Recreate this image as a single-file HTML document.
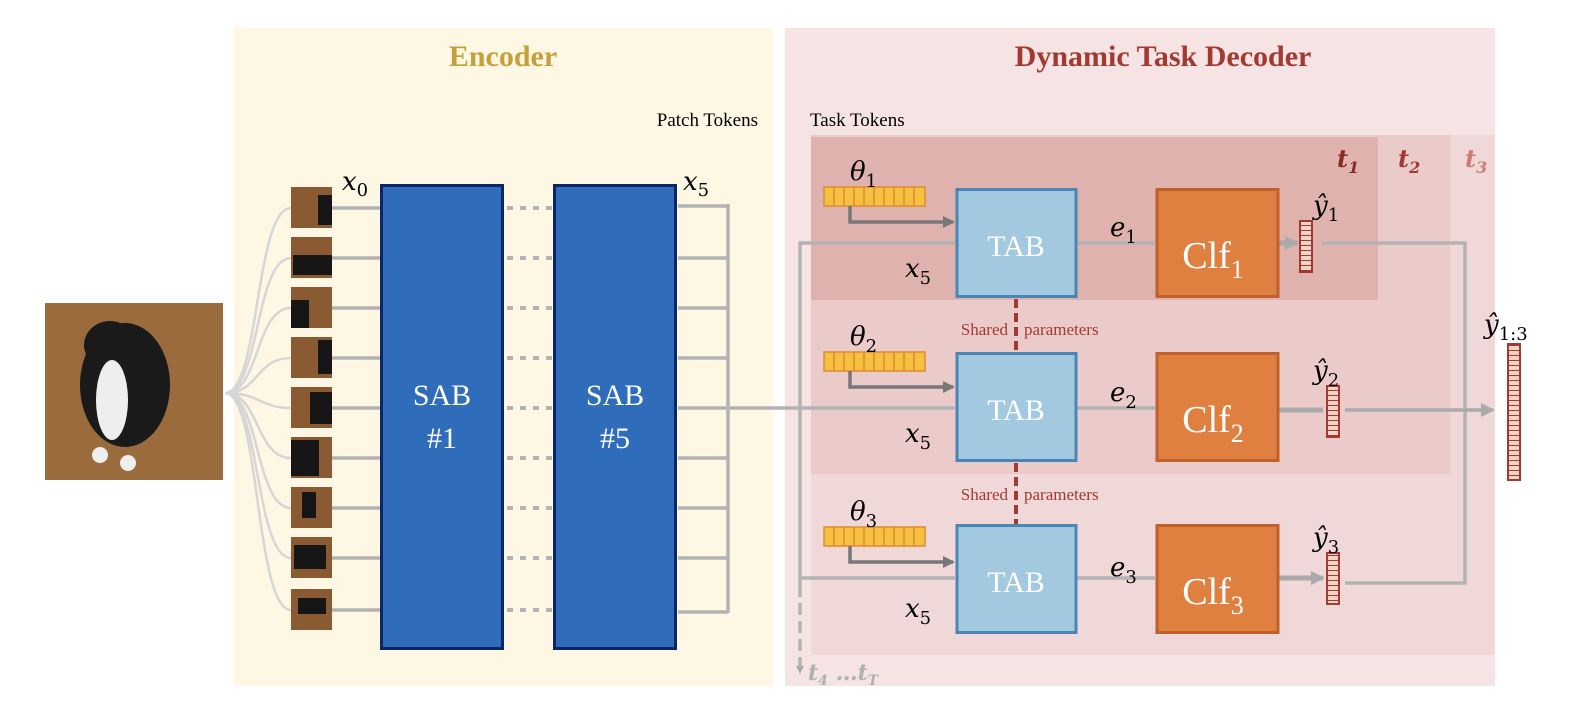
<!DOCTYPE html>
<html><head><meta charset="utf-8"><style>
html,body{margin:0;padding:0;background:#fff}
svg{display:block}
.m{font-family:"DejaVu Serif","Liberation Serif",serif;font-style:italic}
.s{font-family:"Liberation Serif",serif}
</style></head><body>
<svg width="1572" height="708" viewBox="0 0 1572 708" xmlns="http://www.w3.org/2000/svg">
<defs>
<marker id="ag" markerWidth="8" markerHeight="8" refX="6" refY="4" orient="auto" markerUnits="userSpaceOnUse"><path d="M0,0 L8,4 L0,8z" fill="#aaa"/></marker>
<marker id="ad" markerWidth="12" markerHeight="12" refX="10" refY="6" orient="auto" markerUnits="userSpaceOnUse"><path d="M0,0 L12,6 L0,12z" fill="#777"/></marker>
<marker id="ab" markerWidth="14" markerHeight="14" refX="12" refY="7" orient="auto" markerUnits="userSpaceOnUse"><path d="M0,0 L14,7 L0,14z" fill="#aaa"/></marker>
<pattern id="rb" width="12" height="5" patternUnits="userSpaceOnUse"><rect width="12" height="5" fill="#f3d3c3"/><line x1="0" y1="0" x2="12" y2="0" stroke="#a33a32" stroke-width="2"/></pattern>
</defs>
<rect x="234" y="28" width="539" height="658" fill="#fef7e4"/>
<rect x="785" y="28" width="710" height="658" fill="#f6e4e4"/>
<text x="503" y="66" text-anchor="middle" class="s" font-weight="bold" font-size="30" fill="#c6a03a">Encoder</text>
<text x="1163" y="66" text-anchor="middle" class="s" font-weight="bold" font-size="30" fill="#a33a32">Dynamic Task Decoder</text>
<text x="758" y="126" text-anchor="end" class="s" font-size="19">Patch Tokens</text>
<text x="810" y="126" class="s" font-size="19">Task Tokens</text>
<rect x="811" y="135" width="684" height="520" fill="#efd8d7"/>
<rect x="811" y="135" width="639" height="339" fill="#ebcaca"/>
<rect x="811" y="137" width="567" height="163" fill="#e0b2ae"/>
<text x="1337" y="167" class="m" font-weight="bold" font-size="24" fill="#8a2a24">t<tspan font-size="16" dy="6">1</tspan></text>
<text x="1398" y="167" class="m" font-weight="bold" font-size="24" fill="#a33a32">t<tspan font-size="16" dy="6">2</tspan></text>
<text x="1465" y="167" class="m" font-weight="bold" font-size="24" fill="#d07a72">t<tspan font-size="16" dy="6">3</tspan></text>
<!-- cat -->
<rect x="45" y="303" width="178" height="177" fill="#9a6b3d"/>
<ellipse cx="125" cy="385" rx="45" ry="62" fill="#1a1a1a"/>
<ellipse cx="110" cy="345" rx="26" ry="24" fill="#1a1a1a"/>
<ellipse cx="112" cy="400" rx="16" ry="40" fill="#eee"/>
<circle cx="100" cy="455" r="8" fill="#eee"/><circle cx="128" cy="463" r="8" fill="#eee"/>
<g fill="none" stroke="#d6d6d6" stroke-width="2.5">
<path d="M225,393 C260,393 255,208 291,208"/><path d="M225,393 C260,393 255,258 291,258"/>
<path d="M225,393 C260,393 255,308 291,308"/><path d="M225,393 C260,393 255,358 291,358"/>
<path d="M225,393 C260,393 260,408 291,408"/><path d="M225,393 C260,393 255,458 291,458"/>
<path d="M225,393 C260,393 255,508 291,508"/><path d="M225,393 C260,393 255,558 291,558"/>
<path d="M225,393 C260,393 255,610 291,610"/>
</g>
<g fill="#8a5a32">
<rect x="291" y="187" width="41" height="41"/><rect x="291" y="237" width="41" height="41"/>
<rect x="291" y="287" width="41" height="41"/><rect x="291" y="337" width="41" height="41"/>
<rect x="291" y="387" width="41" height="41"/><rect x="291" y="437" width="41" height="41"/>
<rect x="291" y="487" width="41" height="41"/><rect x="291" y="537" width="41" height="41"/>
<rect x="291" y="589" width="41" height="41"/>
</g>
<g fill="#161616">
<rect x="318" y="195" width="14" height="30"/><rect x="293" y="255" width="39" height="20"/>
<rect x="291" y="300" width="18" height="28"/><rect x="318" y="340" width="14" height="34"/>
<rect x="310" y="392" width="22" height="32"/><rect x="291" y="440" width="28" height="36"/>
<rect x="302" y="492" width="14" height="26"/><rect x="294" y="545" width="32" height="24"/>
<rect x="298" y="598" width="28" height="16"/>
</g>
<g stroke="#b3b3b3" stroke-width="3.5" fill="none">
<path d="M332,208H380M332,258H380M332,308H380M332,358H380M332,408H380M332,458H380M332,508H380M332,558H380M332,610H380"/>
<path d="M678,206H728M678,258H728M678,308H728M678,358H728M678,458H728M678,508H728M678,558H728M678,612H728M728,204V613"/>
<path d="M678,408H955"/>
<path d="M955,243H800V585M800,578H955"/>
<path d="M1077,243H1155M1077,408H1155M1077,578H1155"/>
<path d="M1322,243H1465V583H1345"/>
</g>
<path d="M800,585V672" stroke="#b3b3b3" stroke-width="3.5" stroke-dasharray="12,6" marker-end="url(#ag)"/>
<g stroke="#b3b3b3" stroke-width="4" stroke-dasharray="6,7">
<path d="M507,208H553M507,258H553M507,308H553M507,358H553M507,408H553M507,458H553M507,508H553M507,558H553M507,610H553"/>
</g>
<path d="M1345,410H1493" stroke="#aaa" stroke-width="3.5" marker-end="url(#ab)"/>
<path d="M1279,243H1297" stroke="#aaa" stroke-width="5" marker-end="url(#ab)"/>
<path d="M1279,410H1323M1279,578H1323" stroke="#aaa" stroke-width="5" marker-end="url(#ab)"/>
<text x="808" y="680" class="m" font-weight="bold" font-size="22" fill="#b0b0b0">t<tspan font-size="14" dy="5">4</tspan><tspan dy="-5"> …t</tspan><tspan font-size="14" dy="5">T</tspan></text>
<rect x="381.5" y="185.5" width="121" height="463" fill="#2f6dbb" stroke="#0b2565" stroke-width="3"/>
<rect x="554.5" y="185.5" width="121" height="463" fill="#2f6dbb" stroke="#0b2565" stroke-width="3"/>
<text x="442" y="405" text-anchor="middle" class="s" font-size="30" fill="#fff">SAB</text>
<text x="442" y="448" text-anchor="middle" class="s" font-size="30" fill="#fff">#1</text>
<text x="615" y="405" text-anchor="middle" class="s" font-size="30" fill="#fff">SAB</text>
<text x="615" y="448" text-anchor="middle" class="s" font-size="30" fill="#fff">#5</text>
<text x="342" y="190" class="m" font-size="26">x<tspan font-size="18" dy="6" font-style="normal">0</tspan></text>
<text x="683" y="190" class="m" font-size="26">x<tspan font-size="18" dy="6" font-style="normal">5</tspan></text>
<path d="M1016,299V352M1016,463V524" stroke="#a33a32" stroke-width="4" stroke-dasharray="9,5"/>
<g class="s" font-size="17" fill="#a33a32">
<text x="1008" y="335" text-anchor="end">Shared</text><text x="1024" y="335">parameters</text>
<text x="1008" y="500" text-anchor="end">Shared</text><text x="1024" y="500">parameters</text>
</g>
<g>
<rect x="824" y="187" width="101" height="19" fill="#f6c040" stroke="#e08a30" stroke-width="1.5"/>
<path d="M834,187v19M844,187v19M854,187v19M864,187v19M874,187v19M884,187v19M894,187v19M904,187v19M914,187v19" stroke="#e08a30" stroke-width="1.5"/>
<path d="M850,206V222H953" stroke="#777" stroke-width="3.5" fill="none" marker-end="url(#ad)"/>
<text x="850" y="180" class="m" font-size="26">θ<tspan font-size="18" dy="7" font-style="normal">1</tspan></text>
<rect x="957" y="189.5" width="119" height="107" fill="#a3c9e1" stroke="#4a86b5" stroke-width="3"/>
<text x="1016" y="256" text-anchor="middle" class="s" font-size="30" fill="#fff">TAB</text>
<rect x="1157" y="189.5" width="121" height="107" fill="#df8040" stroke="#c0602a" stroke-width="3"/>
<text x="1213" y="268" text-anchor="middle" class="s" font-size="38" fill="#fff">Clf<tspan font-size="26" dy="10">1</tspan></text>
<rect x="1300" y="221" width="12" height="51" fill="url(#rb)" stroke="#a33a32" stroke-width="2"/>
<text x="1313" y="214" class="m" font-size="26">ŷ<tspan font-size="18" dy="7" font-style="normal">1</tspan></text>
<text x="905" y="277" class="m" font-size="26">x<tspan font-size="18" dy="7" font-style="normal">5</tspan></text>
<text x="1110" y="236" class="m" font-size="26">e<tspan font-size="18" dy="7" font-style="normal">1</tspan></text>
</g>
<g transform="translate(0,165)">
<rect x="824" y="187" width="101" height="19" fill="#f6c040" stroke="#e08a30" stroke-width="1.5"/>
<path d="M834,187v19M844,187v19M854,187v19M864,187v19M874,187v19M884,187v19M894,187v19M904,187v19M914,187v19" stroke="#e08a30" stroke-width="1.5"/>
<path d="M850,206V222H953" stroke="#777" stroke-width="3.5" fill="none" marker-end="url(#ad)"/>
<text x="850" y="180" class="m" font-size="26">θ<tspan font-size="18" dy="7" font-style="normal">2</tspan></text>
<rect x="957" y="188.5" width="119" height="107" fill="#a3c9e1" stroke="#4a86b5" stroke-width="3"/>
<text x="1016" y="255" text-anchor="middle" class="s" font-size="30" fill="#fff">TAB</text>
<rect x="1157" y="188.5" width="121" height="107" fill="#df8040" stroke="#c0602a" stroke-width="3"/>
<text x="1213" y="267" text-anchor="middle" class="s" font-size="38" fill="#fff">Clf<tspan font-size="26" dy="10">2</tspan></text>
<rect x="1327" y="221" width="12" height="51" fill="url(#rb)" stroke="#a33a32" stroke-width="2"/>
<text x="1313" y="214" class="m" font-size="26">ŷ<tspan font-size="18" dy="7" font-style="normal">2</tspan></text>
<text x="905" y="277" class="m" font-size="26">x<tspan font-size="18" dy="7" font-style="normal">5</tspan></text>
<text x="1110" y="236" class="m" font-size="26">e<tspan font-size="18" dy="7" font-style="normal">2</tspan></text>
</g>
<g transform="translate(0,340)">
<rect x="824" y="187" width="101" height="19" fill="#f6c040" stroke="#e08a30" stroke-width="1.5"/>
<path d="M834,187v19M844,187v19M854,187v19M864,187v19M874,187v19M884,187v19M894,187v19M904,187v19M914,187v19" stroke="#e08a30" stroke-width="1.5"/>
<path d="M850,206V222H953" stroke="#777" stroke-width="3.5" fill="none" marker-end="url(#ad)"/>
<text x="850" y="180" class="m" font-size="26">θ<tspan font-size="18" dy="7" font-style="normal">3</tspan></text>
<rect x="957" y="185.5" width="119" height="107" fill="#a3c9e1" stroke="#4a86b5" stroke-width="3"/>
<text x="1016" y="252" text-anchor="middle" class="s" font-size="30" fill="#fff">TAB</text>
<rect x="1157" y="185.5" width="121" height="107" fill="#df8040" stroke="#c0602a" stroke-width="3"/>
<text x="1213" y="264" text-anchor="middle" class="s" font-size="38" fill="#fff">Clf<tspan font-size="26" dy="10">3</tspan></text>
<rect x="1327" y="213" width="12" height="51" fill="url(#rb)" stroke="#a33a32" stroke-width="2"/>
<text x="1313" y="206" class="m" font-size="26">ŷ<tspan font-size="18" dy="7" font-style="normal">3</tspan></text>
<text x="905" y="277" class="m" font-size="26">x<tspan font-size="18" dy="7" font-style="normal">5</tspan></text>
<text x="1110" y="236" class="m" font-size="26">e<tspan font-size="18" dy="7" font-style="normal">3</tspan></text>
</g>
<rect x="1508" y="344" width="12" height="136" fill="url(#rb)" stroke="#a33a32" stroke-width="2"/>
<text x="1484" y="333" class="m" font-size="26">ŷ<tspan font-size="18" dy="7" font-style="normal">1:3</tspan></text>
</svg>
</body></html>
